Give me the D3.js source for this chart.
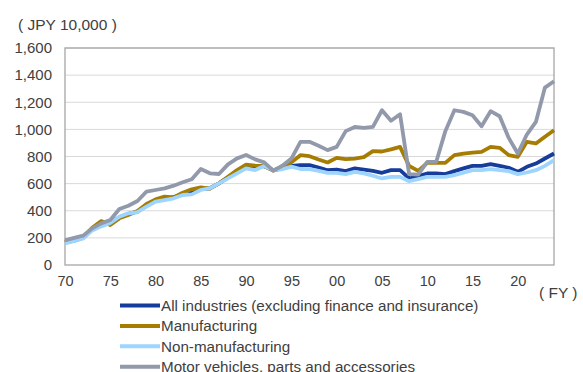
<!DOCTYPE html>
<html><head><meta charset="utf-8">
<script src="https://cdn.jsdelivr.net/npm/d3@7"></script>
<style>body{margin:0;background:#fff;} text{font-family:"Liberation Sans",Arial,sans-serif;fill:#404040;}</style>
</head><body><svg id="c" width="583" height="372"></svg>
<script>
const years = d3.range(1970, 2025);
const allIndustries = [165,180,200,262,300,312,352,378,393,440,475,490,500,525,535,560,566,602,645,690,725,718,730,698,712,731,736,736,719,699,704,692,712,704,694,680,699,699,638,655,675,675,670,692,712,731,731,744,731,717,687,724,748,785,822];
const manufacturing = [167,185,204,275,324,295,344,369,398,450,484,504,499,533,558,573,563,602,651,700,740,732,728,696,725,757,810,802,778,756,790,780,785,795,839,837,852,871,731,694,753,753,753,810,822,829,834,871,864,810,798,908,896,945,994];
const nonManufacturing = [160,175,195,255,285,310,356,381,389,430,467,479,492,516,521,553,566,602,639,676,713,700,730,700,706,725,708,707,694,680,680,670,687,675,658,638,650,650,618,633,650,650,650,663,680,699,699,707,699,692,670,682,699,731,773];
const motorVehicles = [182,200,216,270,307,332,413,437,472,541,553,565,585,610,632,708,676,671,742,786,811,779,757,696,732,785,908,908,879,847,871,987,1018,1011,1018,1141,1063,1112,670,667,761,761,987,1141,1129,1104,1023,1134,1097,937,822,962,1055,1308,1355];
const seriesNames = ["All industries (excluding finance and insurance)","Manufacturing","Non-manufacturing","Motor vehicles, parts and accessories"];
const seriesColors = ["#163D9B","#A67D00","#9ED5FF","#9299AB"];
const yTicks = [0,200,400,600,800,1000,1200,1400,1600];
const xTickYears = [1970,1975,1980,1985,1990,1995,2000,2005,2010,2015,2020];

const svg = d3.select("#c");
const L=65, R=554, T=48, B=265;
const x = d3.scaleLinear().domain([1970,2024]).range([L,R]);
const y = d3.scaleLinear().domain([0,1600]).range([B,T]);

// gridlines
svg.append("g").selectAll("line").data(yTicks.slice(1)).join("line")
  .attr("x1",L).attr("x2",R).attr("y1",d=>y(d)).attr("y2",d=>y(d))
  .attr("stroke","#d9d9d9").attr("stroke-width",1);

// y axis labels
const ya = svg.append("g").attr("transform",`translate(${L},0)`)
  .call(d3.axisLeft(y).tickValues(yTicks).tickSize(0).tickPadding(13).tickFormat(d3.format(",")));
ya.select(".domain").remove();
ya.selectAll("text").attr("font-size",15).attr("font-family","Liberation Sans, Arial, sans-serif").attr("fill","#404040");

// x axis labels
const xa = svg.append("g").attr("transform",`translate(0,${B})`)
  .call(d3.axisBottom(x).tickValues(xTickYears).tickSize(0).tickPadding(11).tickFormat(d=>String(d%100).padStart(2,"0")));
xa.select(".domain").remove();
xa.selectAll("text").attr("font-size",14.5).attr("font-family","Liberation Sans, Arial, sans-serif").attr("fill","#404040");

// border
svg.append("rect").attr("x",L).attr("y",T).attr("width",R-L).attr("height",B-T)
  .attr("fill","none").attr("stroke","#a6a6a6").attr("stroke-width",1.3);

const data = [allIndustries, manufacturing, nonManufacturing, motorVehicles];
const line = d3.line().x((d,i)=>x(years[i])).y(d=>y(d));
const drawOrder = [0,1,2,3];
drawOrder.forEach(k=>{
  svg.append("path").datum(data[k]).attr("d",line).attr("fill","none")
    .attr("stroke",seriesColors[k]).attr("stroke-width",3.8).attr("stroke-linejoin","round");
});

svg.append("text").attr("x",18).attr("y",30).attr("font-size",15.5).text("( JPY 10,000 )");
svg.append("text").attr("x",539).attr("y",298).attr("font-size",15.5).text("( FY )");

const lg = svg.append("g");
seriesNames.forEach((n,i)=>{
  const yy = 305.5 + i*20.4;
  lg.append("line").attr("x1",120).attr("x2",160).attr("y1",yy).attr("y2",yy)
    .attr("stroke",seriesColors[i]).attr("stroke-width",4);
  lg.append("text").attr("x",161).attr("y",yy+5.3).attr("font-size",15.2).text(n);
});
</script></body></html>
